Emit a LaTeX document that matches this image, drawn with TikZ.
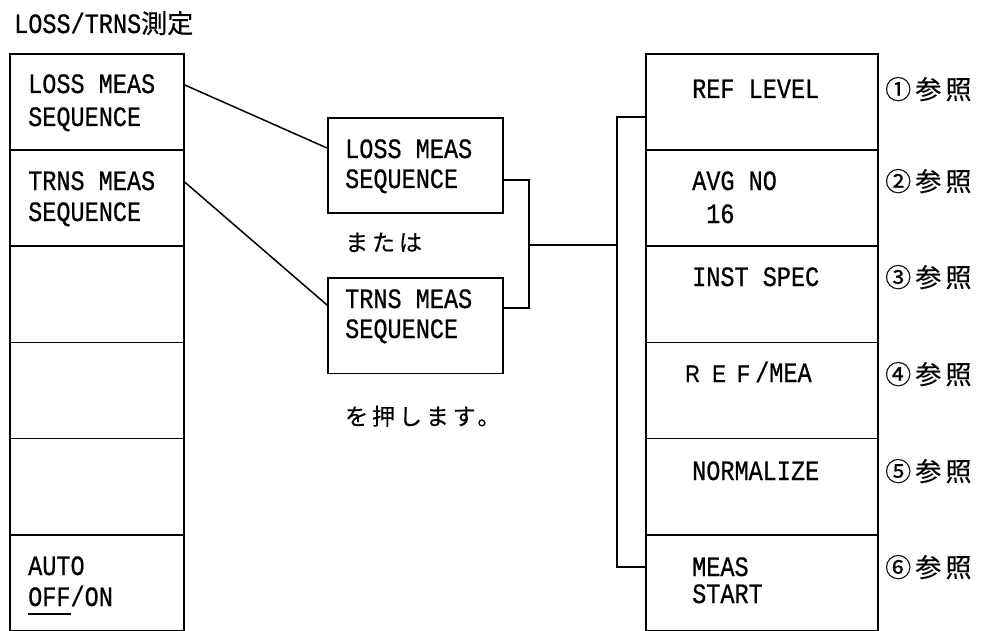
\documentclass[tikz,border=0pt]{standalone}
\usepackage{fontspec}
\newfontfamily\monof[FakeStretch=0.84,FakeBold=0.6]{Liberation Mono}
\newfontfamily\refsans[FakeStretch=0.85,FakeBold=1]{Liberation Sans}
\newfontfamily\jpf[FakeBold=0.4]{Noto Sans CJK JP}
\newfontfamily\jpsp[LetterSpace=17,FakeBold=0.5]{Noto Sans CJK JP}
\newfontfamily\jplab[LetterSpace=16,FakeBold=0.4]{Noto Sans CJK JP}
\begin{document}
\begin{tikzpicture}[x=1pt,y=-1pt,
  cell/.style={draw,line width=1.8pt,inner sep=0,anchor=north west},
  lcell/.style={cell,minimum width=174pt,minimum height=96.17pt},
  rcell/.style={cell,minimum width=232pt,minimum height=96.17pt},
  mbox/.style={cell,minimum width=175pt,minimum height=95.5pt},
  txt/.style={inner sep=0,anchor=base west,font=\monof\fontsize{28}{28}\selectfont},
  jtxt/.style={inner sep=0,anchor=base west,font=\jpsp\fontsize{23}{23}\selectfont},
  lab/.style={inner sep=0,anchor=base west,font=\jplab\fontsize{26}{26}\selectfont},
  conn/.style={line width=1.5pt}]
\useasboundingbox (0,0) rectangle (982,631);
% title
\node[txt] (title) at (14,33) {LOSS/TRNS{\jpf\fontsize{26}{26}\selectfont 測定}};
% left column
\node[lcell] (L1) at (9,53) {};
\node[lcell] (L2) at (9,149.17) {};
\node[lcell] (L3) at (9,245.33) {};
\node[lcell] (L4) at (9,341.5) {};
\node[lcell] (L5) at (9,437.67) {};
\node[lcell] (L6) at (9,533.83) {};
\node[txt] (L1a) at (28,93) {LOSS MEAS};
\node[txt] (L1b) at (28,126) {SEQUENCE};
\node[txt] (L2a) at (28,190) {TRNS MEAS};
\node[txt] (L2b) at (28,221) {SEQUENCE};
\node[txt] (L6a) at (28,575) {AUTO};
\node[txt] (L6b) at (28,606) {OFF/ON};
\draw[line width=2pt] ([yshift=-8pt]L6b.base west) -- ++(43,0);
% middle boxes
\node[mbox] (M1) at (327,117) {};
\node[mbox] (M2) at (327,277) {};
\node[txt] (M1a) at (345,158) {LOSS MEAS};
\node[txt] (M1b) at (345,188) {SEQUENCE};
\node[txt] (M2a) at (345,308) {TRNS MEAS};
\node[txt] (M2b) at (345,338) {SEQUENCE};
\node[jtxt] (or) at (345,251) {または};
\node[jtxt] (press) at (345,425) {を押します。};
% right column
\node[rcell] (R1) at (645,53) {};
\node[rcell] (R2) at (645,149.17) {};
\node[rcell] (R3) at (645,245.33) {};
\node[rcell] (R4) at (645,341.5) {};
\node[rcell] (R5) at (645,437.67) {};
\node[rcell] (R6) at (645,533.83) {};
\node[txt] (R1a) at (692,98) {REF LEVEL};
\node[txt] (R2a) at (692,190) {AVG NO};
\node[txt] (R2b) at (706,223) {16};
\node[txt] (R3a) at (692,286) {INST SPEC};
\node[txt] (R4a) at (685,382) {{\refsans\fontsize{24}{24}\selectfont\makebox[27pt][l]{R}\makebox[25pt][l]{E}\makebox[18pt][l]{F}}/MEA};
\node[txt] (R5a) at (692,480) {NORMALIZE};
\node[txt] (R6a) at (692,576) {MEAS};
\node[txt] (R6b) at (692,603) {START};
% labels
\node[lab] (n1) at (885,99) {①参照};
\node[lab] (n2) at (885,191) {②参照};
\node[lab] (n3) at (885,287) {③参照};
\node[lab] (n4) at (885,384) {④参照};
\node[lab] (n5) at (885,481) {⑤参照};
\node[lab] (n6) at (885,577) {⑥参照};
% connectors
\draw[conn] ([yshift=-32pt]L1.north east) -- ([yshift=-31pt]M1.north west);
\draw[conn] ([yshift=-33pt]L2.north east) -- ([yshift=-28pt]M2.north west);
\coordinate (j) at (529,245);
\coordinate (v) at (617,245);
\draw[conn] ([yshift=-63pt]M1.north east) -| (j) |- ([yshift=-31pt]M2.north east);
\draw[conn] (j) -- (v);
\draw[conn] ([yshift=-64pt]R1.north west) -| (v) |- ([yshift=-33pt]R6.north west);
\end{tikzpicture}
\end{document}
